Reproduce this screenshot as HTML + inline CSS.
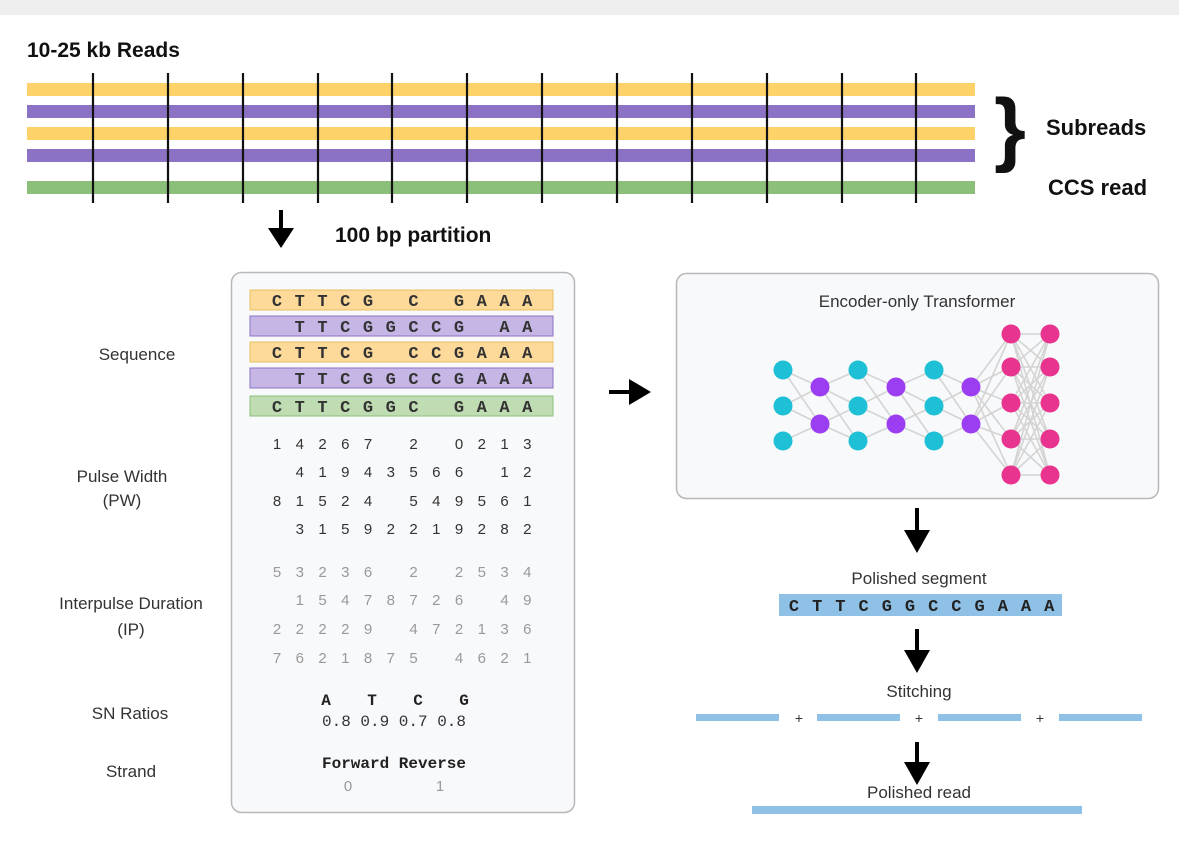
<!DOCTYPE html>
<html><head><meta charset="utf-8"><style>
html,body{margin:0;padding:0;background:#fff;}
svg{display:block}
.s{font-family:"Liberation Sans",sans-serif;}
.m{font-family:"Liberation Mono",monospace;}
</style></head><body>
<svg width="1179" height="865" viewBox="0 0 1179 865" xmlns="http://www.w3.org/2000/svg">
<rect x="0" y="0" width="1179" height="15" fill="#efefef"/>
<text x="27" y="57" class="s" font-size="21" font-weight="bold" fill="#111">10-25 kb Reads</text>
<rect x="27" y="83" width="948" height="13" fill="#fdd369"/>
<rect x="27" y="105" width="948" height="13" fill="#8c72c4"/>
<rect x="27" y="127" width="948" height="13" fill="#fdd369"/>
<rect x="27" y="149" width="948" height="13" fill="#8c72c4"/>
<rect x="27" y="181" width="948" height="13" fill="#8cc07a"/>
<g stroke="#111" stroke-width="2.2">
<line x1="93" y1="73" x2="93" y2="203"/><line x1="168" y1="73" x2="168" y2="203"/><line x1="243" y1="73" x2="243" y2="203"/><line x1="318" y1="73" x2="318" y2="203"/><line x1="392" y1="73" x2="392" y2="203"/><line x1="467" y1="73" x2="467" y2="203"/><line x1="542" y1="73" x2="542" y2="203"/><line x1="617" y1="73" x2="617" y2="203"/><line x1="692" y1="73" x2="692" y2="203"/><line x1="767" y1="73" x2="767" y2="203"/><line x1="842" y1="73" x2="842" y2="203"/><line x1="916" y1="73" x2="916" y2="203"/>
</g>
<text x="1010" y="156" class="s" font-size="82" font-weight="bold" fill="#111" text-anchor="middle">}</text>
<text x="1046" y="135" class="s" font-size="22" font-weight="bold" fill="#111">Subreads</text>
<text x="1048" y="195" class="s" font-size="22" font-weight="bold" fill="#111">CCS read</text>
<rect x="279" y="210" width="4" height="20" fill="#000"/><polygon points="268,228 294,228 281,248" fill="#000"/>
<text x="335" y="242" class="s" font-size="21" font-weight="bold" fill="#111">100 bp partition</text>
<rect x="231.5" y="272.5" width="343" height="540" rx="10" fill="#f8f9fb" stroke="#b8b8b8" stroke-width="1.5"/>
<rect x="250" y="290" width="303" height="20" fill="#fdd99a" stroke="#e8c060"/>
<rect x="250" y="316" width="303" height="20" fill="#c6b6e6" stroke="#8c72c4"/>
<rect x="250" y="342" width="303" height="20" fill="#fdd99a" stroke="#e8c060"/>
<rect x="250" y="368" width="303" height="20" fill="#c6b6e6" stroke="#8c72c4"/>
<rect x="250" y="396" width="303" height="20" fill="#bfdcb2" stroke="#8cc07a"/>
<g class="m" font-size="17" font-weight="bold" fill="#333" text-anchor="middle">
<text y="306" x="277 299.75 322.5 345.25 368 390.75 413.5 436.25 459 481.75 504.5 527.25">CTTCG&#160;C&#160;GAAA</text>
<text y="332" x="277 299.75 322.5 345.25 368 390.75 413.5 436.25 459 481.75 504.5 527.25">&#160;TTCGGCCG&#160;AA</text>
<text y="358" x="277 299.75 322.5 345.25 368 390.75 413.5 436.25 459 481.75 504.5 527.25">CTTCG&#160;CCGAAA</text>
<text y="384" x="277 299.75 322.5 345.25 368 390.75 413.5 436.25 459 481.75 504.5 527.25">&#160;TTCGGCCGAAA</text>
<text y="412" x="277 299.75 322.5 345.25 368 390.75 413.5 436.25 459 481.75 504.5 527.25">CTTCGGC&#160;GAAA</text>
</g>
<g class="s" font-size="15" fill="#333" text-anchor="middle">
<text y="449" x="277 299.75 322.5 345.25 368 390.75 413.5 436.25 459 481.75 504.5 527.25">14267&#160;2&#160;0213</text>
<text y="477" x="277 299.75 322.5 345.25 368 390.75 413.5 436.25 459 481.75 504.5 527.25">&#160;41943566&#160;12</text>
<text y="506" x="277 299.75 322.5 345.25 368 390.75 413.5 436.25 459 481.75 504.5 527.25">81524&#160;549561</text>
<text y="534" x="277 299.75 322.5 345.25 368 390.75 413.5 436.25 459 481.75 504.5 527.25">&#160;31592219282</text>
</g>
<g class="s" font-size="15" fill="#999" text-anchor="middle">
<text y="577" x="277 299.75 322.5 345.25 368 390.75 413.5 436.25 459 481.75 504.5 527.25">53236&#160;2&#160;2534</text>
<text y="605" x="277 299.75 322.5 345.25 368 390.75 413.5 436.25 459 481.75 504.5 527.25">&#160;15478726&#160;49</text>
<text y="634" x="277 299.75 322.5 345.25 368 390.75 413.5 436.25 459 481.75 504.5 527.25">22229&#160;472136</text>
<text y="663" x="277 299.75 322.5 345.25 368 390.75 413.5 436.25 459 481.75 504.5 527.25">7621875&#160;4621</text>
</g>
<g class="m" font-weight="bold" fill="#222" text-anchor="middle">
<text y="705" x="326" font-size="16">A</text><text y="705" x="372" font-size="16">T</text><text y="705" x="418" font-size="16">C</text><text y="705" x="464" font-size="16">G</text>
<text y="768" x="394" font-size="16">Forward Reverse</text>
</g>
<text y="726" x="394" class="m" font-size="16" fill="#333" text-anchor="middle">0.8 0.9 0.7 0.8</text>
<text y="791" x="348" class="s" font-size="15" fill="#999" text-anchor="middle">0</text>
<text y="791" x="440" class="s" font-size="15" fill="#999" text-anchor="middle">1</text>
<g class="s" font-size="17" fill="#333" text-anchor="middle">
<text x="137" y="360">Sequence</text>
<text x="122" y="482">Pulse Width</text><text x="122" y="506">(PW)</text>
<text x="131" y="609">Interpulse Duration</text><text x="131" y="635">(IP)</text>
<text x="130" y="719">SN Ratios</text>
<text x="131" y="777">Strand</text>
</g>
<rect x="609" y="390" width="22" height="4" fill="#000"/><polygon points="629,379 651,392 629,405" fill="#000"/>
<rect x="676.5" y="273.5" width="482" height="225" rx="10" fill="#f8f9fb" stroke="#b8b8b8" stroke-width="1.5"/>
<text x="917" y="307" class="s" font-size="17" fill="#333" text-anchor="middle">Encoder-only Transformer</text>
<g stroke="#d4d4d4" stroke-width="1.6">
<path d="M783 370L820 387M783 406L820 387M783 406L820 424M783 441L820 424M783 370L820 424"/>
<path d="M820 387L858 370M820 387L858 406M820 424L858 406M820 424L858 441M820 387L858 441"/>
<path d="M858 370L896 387M858 406L896 387M858 406L896 424M858 441L896 424M858 370L896 424"/>
<path d="M896 387L934 370M896 387L934 406M896 424L934 406M896 424L934 441M896 387L934 441"/>
<path d="M934 370L971 387M934 406L971 387M934 406L971 424M934 441L971 424M934 370L971 424"/>
<path d="M971 387L1011 334M971 387L1011 367M971 387L1011 403M971 387L1011 439M971 387L1011 475M971 424L1011 334M971 424L1011 367M971 424L1011 403M971 424L1011 439M971 424L1011 475"/>
<path d="M1011 334L1050 334M1011 334L1050 367M1011 334L1050 403M1011 334L1050 439M1011 334L1050 475M1011 367L1050 334M1011 367L1050 367M1011 367L1050 403M1011 367L1050 439M1011 367L1050 475M1011 403L1050 334M1011 403L1050 367M1011 403L1050 403M1011 403L1050 439M1011 403L1050 475M1011 439L1050 334M1011 439L1050 367M1011 439L1050 403M1011 439L1050 439M1011 439L1050 475M1011 475L1050 334M1011 475L1050 367M1011 475L1050 403M1011 475L1050 439M1011 475L1050 475"/>
</g>
<g fill="#1ec0d6">
<circle cx="783" cy="370" r="9.5"/><circle cx="783" cy="406" r="9.5"/><circle cx="783" cy="441" r="9.5"/>
<circle cx="858" cy="370" r="9.5"/><circle cx="858" cy="406" r="9.5"/><circle cx="858" cy="441" r="9.5"/>
<circle cx="934" cy="370" r="9.5"/><circle cx="934" cy="406" r="9.5"/><circle cx="934" cy="441" r="9.5"/>
</g>
<g fill="#9b3ef2">
<circle cx="820" cy="387" r="9.5"/><circle cx="820" cy="424" r="9.5"/>
<circle cx="896" cy="387" r="9.5"/><circle cx="896" cy="424" r="9.5"/>
<circle cx="971" cy="387" r="9.5"/><circle cx="971" cy="424" r="9.5"/>
</g>
<g fill="#e8338f">
<circle cx="1011" cy="334" r="9.5"/><circle cx="1011" cy="367" r="9.5"/><circle cx="1011" cy="403" r="9.5"/><circle cx="1011" cy="439" r="9.5"/><circle cx="1011" cy="475" r="9.5"/>
<circle cx="1050" cy="334" r="9.5"/><circle cx="1050" cy="367" r="9.5"/><circle cx="1050" cy="403" r="9.5"/><circle cx="1050" cy="439" r="9.5"/><circle cx="1050" cy="475" r="9.5"/>
</g>
<rect x="915" y="508" width="4" height="24" fill="#000"/><polygon points="904,530 930,530 917,553" fill="#000"/>
<text x="919" y="584" class="s" font-size="17" fill="#333" text-anchor="middle">Polished segment</text>
<rect x="779" y="594" width="283" height="22" fill="#8fc0e6"/>
<text y="611" x="794 817.2 840.4 863.6 886.8 910 933.2 956.4 979.6 1002.8 1026 1049.2" class="m" font-size="17" font-weight="bold" fill="#222" text-anchor="middle">CTTCGGCCGAAA</text>
<rect x="915" y="629" width="4" height="24" fill="#000"/><polygon points="904,650 930,650 917,673" fill="#000"/>
<text x="919" y="697" class="s" font-size="17" fill="#333" text-anchor="middle">Stitching</text>
<g fill="#8fc0e6">
<rect x="696" y="714" width="83" height="7"/><rect x="817" y="714" width="83" height="7"/><rect x="938" y="714" width="83" height="7"/><rect x="1059" y="714" width="83" height="7"/>
</g>
<g class="s" font-size="14" fill="#333" text-anchor="middle"><text x="799" y="723">+</text><text x="919" y="723">+</text><text x="1040" y="723">+</text></g>
<rect x="915" y="742" width="4" height="22" fill="#000"/><polygon points="904,762 930,762 917,785" fill="#000"/>
<text x="919" y="798" class="s" font-size="17" fill="#333" text-anchor="middle">Polished read</text>
<rect x="752" y="806" width="330" height="8" fill="#8fc0e6"/>
</svg>
</body></html>
